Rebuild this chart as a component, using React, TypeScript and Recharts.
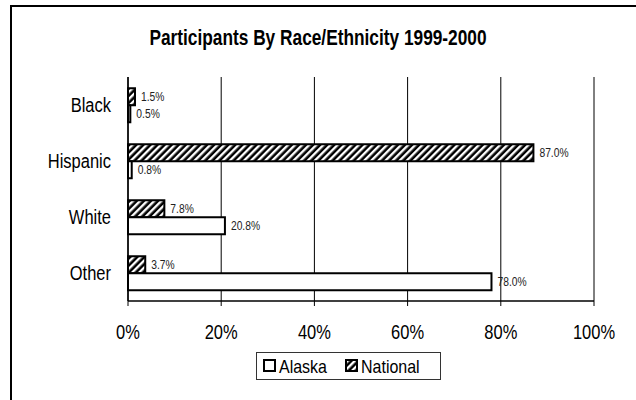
import { BarChart, Bar, XAxis, YAxis, CartesianGrid, LabelList } from 'recharts';

const groups = ['Black', 'Hispanic', 'White', 'Other'];
const alaska = [0.5, 0.8, 20.8, 78.0];
const national = [1.5, 87.0, 7.8, 3.7];
const xTicks = [0, 20, 40, 60, 80, 100];

const data = groups.map((g, i) => ({ group: g, alaska: alaska[i], national: national[i] }));

const font = '"Liberation Sans", Arial, sans-serif';
// the source text is tall and narrow, so stretch it vertically
const SY = 1.2;

const pct = (v: number) => `${v.toFixed(1)}%`;

function Hatch({ id }: { id: string }) {
  return (
    <pattern id={id} width="5" height="5" patternUnits="userSpaceOnUse" patternTransform="rotate(45)">
      <rect width="5" height="5" fill="#000" />
      <rect width="2.4" height="5" fill="#fff" />
    </pattern>
  );
}

const XTick = (props: any) => {
  const { x, y, payload } = props;
  return (
    <text transform={`translate(${x},${y}) scale(1,${SY})`} textAnchor="middle" dy="0.71em" fontSize={16.5} fill="#000" fontFamily={font}>
      {`${payload.value}%`}
    </text>
  );
};

const YTick = (props: any) => {
  const { x, y, payload } = props;
  return (
    <text transform={`translate(${x},${y}) scale(1,${SY})`} textAnchor="end" dy="0.355em" fontSize={16.5} fill="#000" fontFamily={font}>
      {payload.value}
    </text>
  );
};

const ValueLabel = (props: any) => {
  const { x, y, width, height, value } = props;
  return (
    <text
      transform={`translate(${x + width + 6},${y + height / 2}) scale(1,${SY})`}
      dy="0.355em"
      fontSize={10.3}
      fill="#222"
      fontFamily={font}
    >
      {pct(value)}
    </text>
  );
};

export default function App() {
  return (
    <div style={{ position: 'absolute', left: 0, top: 0, width: 636, height: 400, overflow: 'hidden', fontFamily: font, background: '#fff' }}>
      <div style={{ position: 'absolute', left: 10, top: 5, width: 640, height: 420, borderLeft: '2px solid #000', borderTop: '2px solid #000' }} />
      <div
        style={{
          position: 'absolute',
          left: 0,
          top: 25,
          width: 636,
          textAlign: 'center',
          fontWeight: 'bold',
          fontSize: 17.3,
          color: '#000',
          transform: 'scaleY(1.25)',
          transformOrigin: 'center top',
        }}
      >
        Participants By Race/Ethnicity 1999-2000
      </div>
      <div style={{ position: 'absolute', left: 0, top: 0 }}>
        <BarChart
          width={636}
          height={400}
          data={data}
          layout="vertical"
          margin={{ top: 77, right: 42, bottom: 69, left: 48 }}
          barCategoryGap="20%"
          barGap={0}
          style={{ fontFamily: font }}
        >
          <defs>
            <Hatch id="hatch" />
          </defs>
          <CartesianGrid horizontal={false} stroke="#000" strokeWidth={1} />
          <XAxis
            type="number"
            domain={[0, 100]}
            ticks={xTicks}
            axisLine={{ stroke: '#000', strokeWidth: 1.5 }}
            tickLine={{ stroke: '#000' }}
            tickSize={5}
            tickMargin={19}
            height={30}
            tick={<XTick />}
            interval={0}
          />
          <XAxis
            xAxisId="top"
            orientation="top"
            type="number"
            domain={[0, 100]}
            height={0}
            tick={false}
            tickLine={false}
            axisLine={{ stroke: '#000' }}
          />
          <YAxis
            type="category"
            dataKey="group"
            width={80}
            axisLine={{ stroke: '#000', strokeWidth: 1.5 }}
            tickLine={false}
            tickSize={6}
            tickMargin={11}
            tick={<YTick />}
          />
          <YAxis
            yAxisId="bounds"
            type="number"
            domain={[0, 4]}
            ticks={[0, 1, 2, 3, 4]}
            width={0}
            mirror
            tickSize={6}
            tickFormatter={() => ''}
            axisLine={false}
            tickLine={{ stroke: '#000' }}
          />
          <Bar dataKey="national" fill="url(#hatch)" stroke="#000" strokeWidth={2} isAnimationActive={false}>
            <LabelList dataKey="national" content={<ValueLabel />} />
          </Bar>
          <Bar dataKey="alaska" fill="#fff" stroke="#000" strokeWidth={2} isAnimationActive={false}>
            <LabelList dataKey="alaska" content={<ValueLabel />} />
          </Bar>
        </BarChart>
      </div>
      <svg style={{ position: 'absolute', left: 256, top: 352 }} width={186} height={29}>
        <defs>
          <Hatch id="hatchLegend" />
        </defs>
        <rect x={0.5} y={0.5} width={184} height={27} fill="#fff" stroke="#333" strokeWidth={1} />
        <rect x={8} y={8} width={11} height={11} fill="#fff" stroke="#000" strokeWidth={2} />
        <text transform={`translate(23,14) scale(1,${SY})`} dy="0.355em" fontSize={16} fill="#000" fontFamily={font}>
          Alaska
        </text>
        <rect x={90} y={8} width={11} height={11} fill="url(#hatchLegend)" stroke="#000" strokeWidth={2} />
        <text transform={`translate(105,14) scale(1,${SY})`} dy="0.355em" fontSize={16} fill="#000" fontFamily={font}>
          National
        </text>
      </svg>
    </div>
  );
}
